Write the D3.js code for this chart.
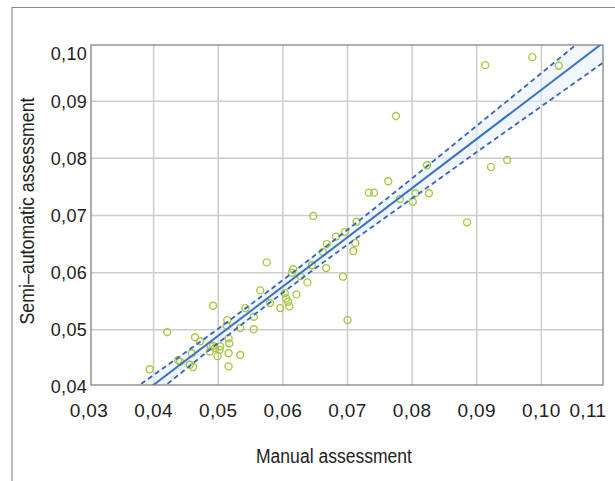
<!DOCTYPE html>
<html>
<head>
<meta charset="utf-8">
<script src="https://cdn.jsdelivr.net/npm/d3@7"></script>
<style>
  body { margin: 0; background: #fff; }
  svg { display: block; }
  text { font-family: "Liberation Sans", Arial, sans-serif; fill: #222; }
</style>
</head>
<body>
<div id="wrapper"></div>
<script>
// manual vs semi-automatic values
const manual = [
  0.0913, 0.0986, 0.1027, 0.0775, 0.0823, 0.0922, 0.0947, 0.0763, 0.0733, 0.0741,
  0.0805, 0.0826, 0.0801, 0.0885, 0.0714, 0.0712, 0.0709, 0.0647, 0.0682, 0.0668,
  0.0575, 0.0667, 0.0616, 0.0614, 0.0693, 0.0638, 0.0565, 0.0603, 0.0621, 0.0605,
  0.0608, 0.0610, 0.0596, 0.0542, 0.0492, 0.0514, 0.0555, 0.0555, 0.0700, 0.0516,
  0.0492, 0.0503, 0.0421, 0.0513, 0.0464, 0.0472, 0.0488, 0.0495, 0.0502, 0.0517,
  0.0516, 0.0534, 0.0487, 0.0459, 0.0438, 0.0441, 0.0456, 0.0461, 0.0516, 0.0394,
  0.0499, 0.0645, 0.0662, 0.0627, 0.0534, 0.0580, 0.0696, 0.0781
];
const semiAuto = [
  0.0963, 0.0977, 0.0962, 0.0874, 0.0788, 0.0785, 0.0797, 0.0760, 0.0740, 0.0740,
  0.0739, 0.0739, 0.0724, 0.0688, 0.0689, 0.0652, 0.0638, 0.0699, 0.0663, 0.0650,
  0.0618, 0.0608, 0.0606, 0.0600, 0.0593, 0.0583, 0.0569, 0.0564, 0.0562, 0.0555,
  0.0549, 0.0541, 0.0538, 0.0538, 0.0542, 0.0517, 0.0523, 0.0501, 0.0517, 0.0485,
  0.0472, 0.0471, 0.0496, 0.0507, 0.0487, 0.0480, 0.0472, 0.0468, 0.0465, 0.0476,
  0.0459, 0.0456, 0.0462, 0.0459, 0.0447, 0.0444, 0.0439, 0.0435, 0.0436, 0.0431,
  0.0454, 0.0613, 0.0636, 0.0594, 0.0503, 0.0547, 0.0671, 0.0729
];

// regression line and confidence band as drawn
const fitX = [0.037, 0.11];
const fitY = [0.0378, 0.1006];
const bandX = [0.037, 0.04, 0.05, 0.06, 0.07, 0.08, 0.09, 0.10, 0.11];
const bandUpper = [0.0397, 0.0421, 0.0502, 0.0587, 0.0675, 0.0765, 0.0857, 0.0949, 0.1042];
const bandLower = [0.0359, 0.0386, 0.0477, 0.0565, 0.0649, 0.0730, 0.0811, 0.0891, 0.0971];

const xTicks = [0.03, 0.04, 0.05, 0.06, 0.07, 0.08, 0.09, 0.10, 0.11];
const yTicks = [0.04, 0.05, 0.06, 0.07, 0.08, 0.09, 0.10];

const width = 615, height = 481;
const frame = { left: 91, right: 603, top: 45, bottom: 385 };

const fmt = (v) => d3.format(".2f")(v).replace(".", ",");

const svg = d3.select("#wrapper").append("svg")
  .attr("width", width)
  .attr("height", height);

// outer box (only top and left visible)
svg.append("path")
  .attr("d", `M12,${height} L12,7.5 L${width},7.5`)
  .attr("fill", "none")
  .attr("stroke", "#8a8a8a")
  .attr("stroke-width", 1.2);

const xScale = d3.scaleLinear().domain([0.03, 0.11]).range([89, 606]);
const yScale = d3.scaleLinear().domain([0.04, 0.10]).range([387, 44]);

// grid
const grid = svg.append("g");
grid.selectAll(".gx")
  .data(xTicks.slice(1, -1))
  .join("line")
  .attr("x1", (d) => xScale(d)).attr("x2", (d) => xScale(d))
  .attr("y1", frame.top).attr("y2", frame.bottom)
  .attr("stroke", "#cccccc").attr("stroke-width", 1.5);
grid.selectAll(".gy")
  .data(yTicks.slice(1, -1))
  .join("line")
  .attr("x1", frame.left).attr("x2", frame.right)
  .attr("y1", (d) => yScale(d)).attr("y2", (d) => yScale(d))
  .attr("stroke", "#cccccc").attr("stroke-width", 1.5);

svg.append("clipPath").attr("id", "plot-clip")
  .append("rect")
  .attr("x", frame.left).attr("y", frame.top)
  .attr("width", frame.right - frame.left)
  .attr("height", frame.bottom - frame.top);

const plot = svg.append("g").attr("clip-path", "url(#plot-clip)");

const band = bandX.map((x, i) => ({ x, lo: bandLower[i], hi: bandUpper[i] }));

plot.append("path")
  .attr("d", d3.area()
    .x((d) => xScale(d.x))
    .y0((d) => yScale(d.lo) + 2)
    .y1((d) => yScale(d.hi) - 2)(band))
  .attr("fill", "#e3eef9")
  .attr("opacity", 0.55);

// points
plot.selectAll("circle")
  .data(manual.map((m, i) => [m, semiAuto[i]]))
  .join("circle")
  .attr("cx", (d) => xScale(d[0]))
  .attr("cy", (d) => yScale(d[1]))
  .attr("r", 3.5)
  .attr("fill", "none")
  .attr("stroke", "#a7c842")
  .attr("stroke-width", 1.4);

const bandLine = (key) => d3.line()
  .x((d) => xScale(d.x))
  .y((d) => yScale(d[key]))
  .curve(d3.curveMonotoneX);

["hi", "lo"].forEach((key) => {
  plot.append("path")
    .attr("d", bandLine(key)(band))
    .attr("fill", "none")
    .attr("stroke", "#3d63ae")
    .attr("stroke-width", 1.8)
    .attr("stroke-dasharray", "5,3.5");
});

plot.append("path")
  .attr("d", d3.line()
    .x((d) => xScale(d[0]))
    .y((d) => yScale(d[1]))(fitX.map((x, i) => [x, fitY[i]])))
  .attr("fill", "none")
  .attr("stroke", "#3b73c2")
  .attr("stroke-width", 2);

// plot frame
svg.append("rect")
  .attr("x", frame.left).attr("y", frame.top)
  .attr("width", frame.right - frame.left)
  .attr("height", frame.bottom - frame.top)
  .attr("fill", "none")
  .attr("stroke", "#7a7a7a")
  .attr("stroke-width", 1.2);

// tick labels (end labels pulled inside like in the original)
svg.selectAll(".xl")
  .data(xTicks)
  .join("text")
  .attr("x", (d) => Math.min(xScale(d), frame.right - 15))
  .attr("y", 417)
  .attr("text-anchor", "middle")
  .attr("font-size", 19)
  .attr("letter-spacing", 0.4)
  .text(fmt);

svg.selectAll(".yl")
  .data(yTicks)
  .join("text")
  .attr("x", 87)
  .attr("y", (d) => Math.max(yScale(d), frame.top + 9))
  .attr("dy", "0.36em")
  .attr("text-anchor", "end")
  .attr("font-size", 18)
  .attr("letter-spacing", 0.3)
  .text(fmt);

// axis titles (condensed face in the original)
svg.append("text")
  .attr("x", 334).attr("y", 463)
  .attr("text-anchor", "middle")
  .attr("font-size", 20)
  .attr("textLength", 156)
  .attr("lengthAdjust", "spacingAndGlyphs")
  .text("Manual assessment");

svg.append("text")
  .attr("transform", "translate(34,211) rotate(-90)")
  .attr("text-anchor", "middle")
  .attr("font-size", 20)
  .attr("textLength", 227)
  .attr("lengthAdjust", "spacingAndGlyphs")
  .text("Semi\u2013automatic assessment");
</script>
</body>
</html>
